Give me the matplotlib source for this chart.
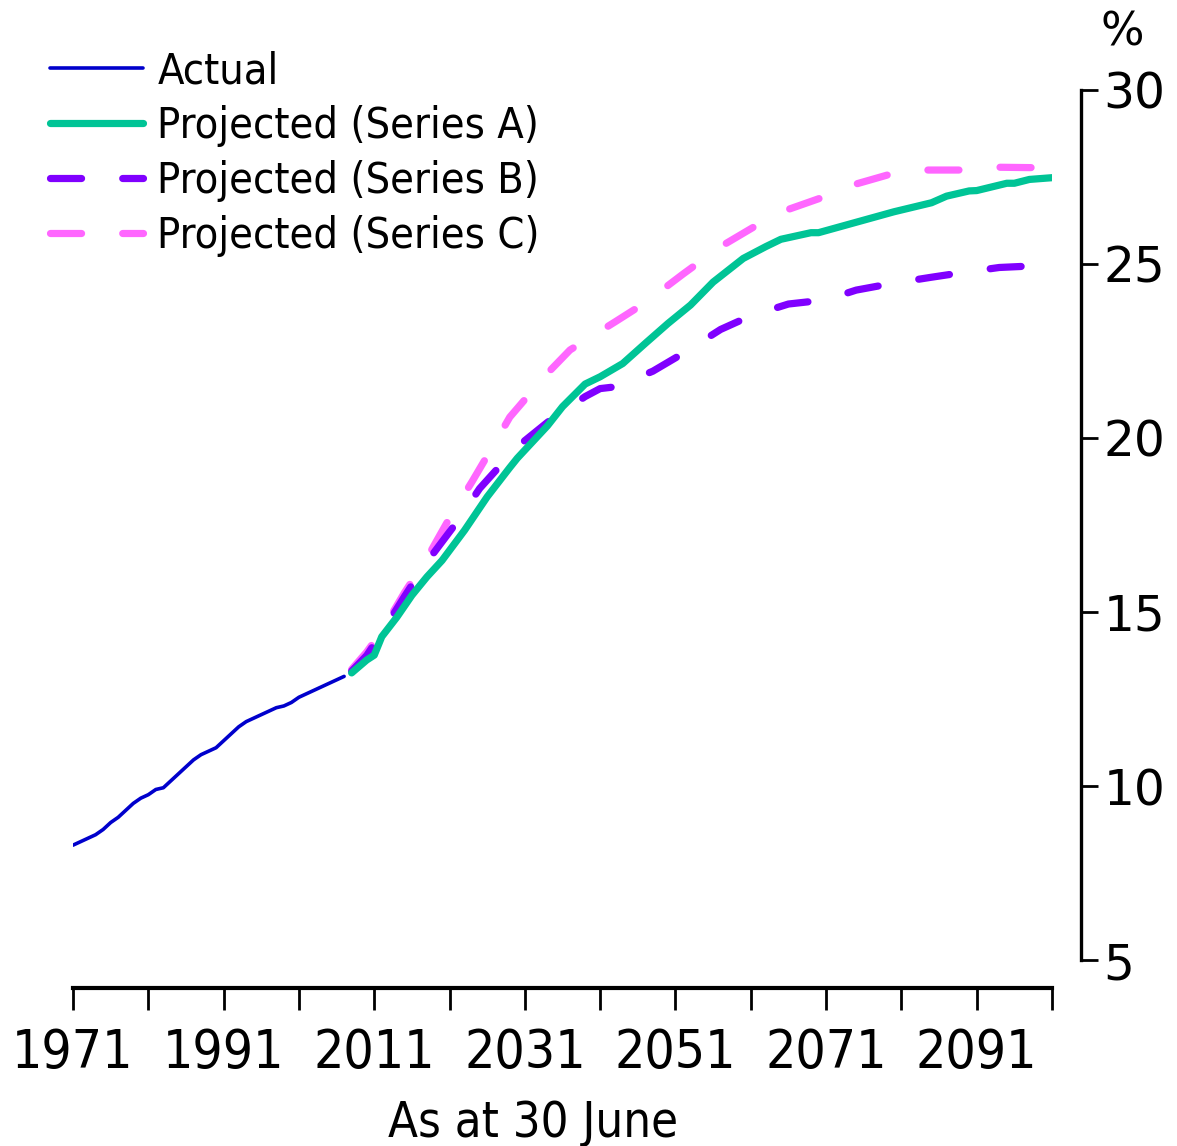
import matplotlib
matplotlib.use("Agg")
import matplotlib.pyplot as plt
from matplotlib import font_manager

# ---------------- data ----------------
actual_years = list(range(1971, 2008))
actual_values = [8.30, 8.40, 8.50, 8.60, 8.75, 8.95, 9.10, 9.30, 9.50, 9.65,
                 9.75, 9.90, 9.95, 10.15, 10.35, 10.55, 10.75, 10.90, 11.00, 11.10,
                 11.30, 11.50, 11.70, 11.85, 11.95, 12.05, 12.15, 12.25, 12.30, 12.40,
                 12.55, 12.65, 12.75, 12.85, 12.95, 13.05, 13.15]

a_years = [2008, 2010, 2011, 2012, 2014, 2016, 2018, 2020, 2023, 2026, 2029, 2030,
           2034, 2036, 2039, 2041, 2044, 2047, 2050, 2053, 2056, 2060, 2063, 2065,
           2069, 2070, 2075, 2080, 2085, 2087, 2090, 2091, 2095, 2096, 2098, 2101]
a_values = [13.25, 13.62, 13.76, 14.29, 14.85, 15.48, 16.01, 16.48, 17.35, 18.31,
            19.15, 19.42, 20.35, 20.90, 21.55, 21.76, 22.14, 22.72, 23.29, 23.82,
            24.48, 25.16, 25.50, 25.71, 25.90, 25.90, 26.20, 26.50, 26.76, 26.95,
            27.10, 27.11, 27.32, 27.32, 27.43, 27.48]

b_years = [2008, 2010, 2012, 2015, 2018, 2022, 2025, 2030, 2034, 2039, 2041, 2043,
           2048, 2052, 2057, 2061, 2066, 2071, 2075, 2080, 2085, 2089, 2094, 2098, 2101]
b_values = [13.30, 13.75, 14.40, 15.44, 16.44, 17.59, 18.55, 19.75, 20.45, 21.19,
            21.42, 21.47, 21.92, 22.43, 23.12, 23.51, 23.85, 23.97, 24.25, 24.45,
            24.62, 24.75, 24.90, 24.94, 24.97]

c_years = [2008, 2010, 2012, 2015, 2018, 2021, 2024, 2027, 2029, 2034, 2037, 2043,
           2047, 2052, 2057, 2062, 2066, 2071, 2075, 2080, 2084, 2089, 2094, 2098, 2101]
c_values = [13.35, 13.85, 14.45, 15.55, 16.55, 17.70, 18.75, 19.85, 20.60, 21.86,
            22.53, 23.34, 23.89, 24.71, 25.50, 26.14, 26.57, 26.95, 27.30, 27.61,
            27.70, 27.70, 27.78, 27.77, 27.77]

x_ticks = list(range(1971, 2102, 10))
x_labels = [str(y) if (y - 1971) % 20 == 0 else "" for y in x_ticks]
y_ticks = [5, 10, 15, 20, 25, 30]

# ---------------- fonts ----------------
entries = font_manager.fontManager.ttflist
names = {f.name for f in entries}
narrow_family = None
narrow_stretch = "normal"
size_scale = 1.0
if "Liberation Sans Narrow" in names:
    narrow_family = "Liberation Sans Narrow"
else:
    for pref in ["Noto Sans", "DejaVu Sans", "Open Sans", "Roboto", "Liberation Sans"]:
        for f in entries:
            if f.name == pref and f.stretch in ("condensed", "semi-condensed",
                                                 "extra-condensed", 400, 300, 200) \
                    and f.weight in ("normal", 400, "regular"):
                narrow_family = pref
                narrow_stretch = f.stretch
                break
        if narrow_family:
            break
if narrow_family is None:
    narrow_family = "DejaVu Sans"
    size_scale = 0.78
else:
    if narrow_family != "Liberation Sans Narrow":
        size_scale = 0.9

NF = dict(fontfamily=narrow_family, fontstretch=narrow_stretch)
wide = "DejaVu Sans"

fig = plt.figure(figsize=(11.77, 11.46), dpi=100)
ax = fig.add_axes([73 / 1177, 1 - 960 / 1146, (1052 - 73) / 1177, (960 - 90) / 1146])

ax.plot(actual_years, actual_values, color="#0000CC", lw=2.6, label="Actual",
        solid_capstyle="round", zorder=3)
ax.plot(a_years, a_values, color="#00C496", lw=5.2, label="Projected (Series A)",
        solid_capstyle="round", zorder=4)
ax.plot(b_years, b_values, color="#8000FF", lw=5.2, label="Projected (Series B)",
        dashes=(4.3, 5.7), dash_capstyle="round", zorder=3)
ax.plot(c_years, c_values, color="#FF66FF", lw=5.2, label="Projected (Series C)",
        dashes=(4.3, 5.7), dash_capstyle="round", zorder=2)

ax.set_xlim(1971, 2101)
ax.set_ylim(5, 30)

for s in ["top", "left"]:
    ax.spines[s].set_visible(False)
ax.spines["bottom"].set_position(("outward", 20))
ax.spines["bottom"].set_linewidth(3.0)
ax.spines["bottom"].set_bounds(1971, 2101)
ax.spines["right"].set_position(("outward", 21))
ax.spines["right"].set_linewidth(2.4)
ax.spines["right"].set_bounds(5, 30)

ax.yaxis.tick_right()
ax.set_xticks(x_ticks)
ax.set_xticklabels(x_labels, fontsize=42.5 * size_scale, **NF)
ax.set_yticks(y_ticks)
ax.set_yticklabels([str(v) for v in y_ticks], fontfamily=wide, fontsize=35)
ax.tick_params(axis="x", direction="out", length=16, width=2.0, pad=12)
ax.tick_params(axis="y", direction="out", length=12, width=2.0, pad=4)

ax.set_xlabel("As at 30 June", fontsize=39 * size_scale, labelpad=14.5,
              x=(533 - 73) / 979, **NF)
fig.text(1122 / 1177, 1 - 33 / 1146, "%", fontfamily=wide, fontsize=33,
         ha="center", va="center")

leg_fs = 34.5 * size_scale
leg_px = leg_fs * 100 / 72
leg_prop = font_manager.FontProperties(family=narrow_family, stretch=narrow_stretch,
                                       size=leg_fs)
leg = ax.legend(loc="upper left", bbox_to_anchor=(33 / 1177, 1 - 33 / 1146),
                bbox_transform=fig.transFigure, frameon=False,
                prop=leg_prop, handlelength=93 / leg_px,
                handletextpad=14 / leg_px, labelspacing=0.30,
                borderaxespad=0)

fig.savefig("out.png", dpi=100)
